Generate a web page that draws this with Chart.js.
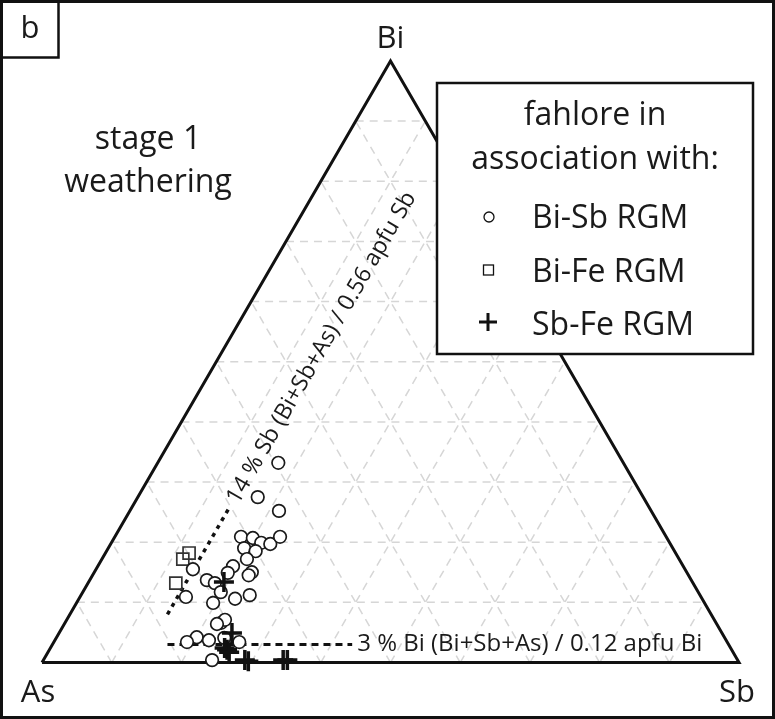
<!DOCTYPE html>
<html>
<head>
<meta charset="utf-8">
<script src="https://cdn.jsdelivr.net/npm/chart.js@4/dist/chart.umd.min.js"></script>
<style>
html, body { margin: 0; padding: 0; background: #fff; }
#wrap { width: 775px; height: 719px; position: relative; }
</style>
</head>
<body>
<div id="wrap"><canvas id="tern"></canvas></div>
<script>
// fahlore compositions, atomic %, [Bi, Sb]  (As = 100 - Bi - Sb)
var bi_sb_rgm = [
  [33.2, 17.3], [27.5, 17.2], [25.2, 21.4], [20.9, 18.1], [20.7, 19.9],
  [19.9, 21.5], [19.7, 22.9], [20.9, 23.7], [19.0, 19.5], [18.5, 21.4],
  [17.2, 20.8], [16.0, 19.4], [15.0, 22.6], [14.5, 22.4], [15.5, 13.9],
  [13.7, 16.8], [13.2, 18.2], [14.9, 19.2], [11.7, 19.8], [10.9, 15.2],
  [9.9, 19.6], [10.6, 22.4], [11.2, 24.2], [6.6, 22.4], [7.1, 22.7],
  [6.4, 21.9], [4.2, 20.1], [3.4, 19.1], [3.7, 22.1], [4.1, 24.1],
  [3.4, 26.6], [0.4, 24.2]
];
var bi_fe_rgm = [
  [18.2, 12.0], [17.2, 11.6], [13.2, 12.6]
];
var sb_fe_rgm = [
  [13.4, 19.4], [4.9, 24.8], [2.1, 25.5], [2.4, 25.0], [1.7, 26.0],
  [0.4, 28.9], [0.2, 29.5], [0.4, 34.4], [0.4, 35.0]
];
var grid_ticks = [10, 20, 30, 40, 50, 60, 70, 80, 90];
var sb_guide = 14;            // % Sb  (0.56 apfu)
var sb_guide_bi = [8, 25.5];  // Bi range of the dotted part
var bi_guide = 3;             // % Bi  (0.12 apfu)
var bi_guide_sb = [16.5, 43]; // Sb range of the dashed part

var vertex_labels = ['As', 'Sb', 'Bi'];
var legend_labels = ['Bi-Sb RGM', 'Bi-Fe RGM', 'Sb-Fe RGM'];

var FONT = '"Open Sans", "Noto Sans", sans-serif';
var H = Math.sqrt(3) / 2;

function tern(bi, sb) {
  var b = bi / 100, s = sb / 100;
  return { x: s + b / 2, y: b * H };
}
function pts(list) {
  return list.map(function (p) { return tern(p[0], p[1]); });
}

var datasets = [];
datasets.push({
  label: legend_labels[0], data: pts(bi_sb_rgm),
  pointStyle: 'circle', pointRadius: 6.3, pointBorderWidth: 1.7,
  pointBackgroundColor: '#fff', pointBorderColor: '#1a1a1a', order: 1
});
datasets.push({
  label: legend_labels[1], data: pts(bi_fe_rgm),
  pointStyle: 'rect', pointRadius: 8.5, pointBorderWidth: 1.7,
  pointBackgroundColor: 'rgba(255,255,255,0)', pointBorderColor: '#333', order: 2
});
datasets.push({
  label: legend_labels[2], data: pts(sb_fe_rgm),
  pointStyle: 'cross', pointRadius: 10, pointBorderWidth: 3.5,
  pointBorderColor: '#111', order: 0
});

// triangle outline
datasets.push({
  data: [tern(0, 0), tern(0, 100), tern(100, 0), tern(0, 0)],
  showLine: true, borderColor: '#111', borderWidth: 3, pointRadius: 0,
  borderJoinStyle: 'miter', order: 5
});

// guide lines
datasets.push({
  data: [tern(sb_guide_bi[0], sb_guide), tern(sb_guide_bi[1], sb_guide)],
  showLine: true, borderColor: '#111', borderWidth: 3.5, borderDash: [4, 5],
  pointRadius: 0, order: 6
});
datasets.push({
  data: [tern(bi_guide, bi_guide_sb[0]), tern(bi_guide, bi_guide_sb[1])],
  showLine: true, borderColor: '#111', borderWidth: 3, borderDash: [7, 5],
  pointRadius: 0, order: 6
});

// 10 % grid
grid_ticks.forEach(function (t) {
  var segs = [
    [tern(t, 0), tern(t, 100 - t)],       // Bi = t
    [tern(0, t), tern(100 - t, t)],       // Sb = t
    [tern(0, 100 - t), tern(100 - t, 0)]  // As = t
  ];
  segs.forEach(function (s) {
    datasets.push({
      data: s, showLine: true, borderColor: '#d6d6d6', borderWidth: 1.5,
      borderDash: [8, 6], pointRadius: 0, order: 10
    });
  });
});

var decor = {
  id: 'decor',
  afterDraw: function (chart) {
    var ctx = chart.ctx;
    var sx = chart.scales.x, sy = chart.scales.y;
    function px(bi, sb) {
      var p = tern(bi, sb);
      return { x: sx.getPixelForValue(p.x), y: sy.getPixelForValue(p.y) };
    }
    ctx.save();
    ctx.fillStyle = '#1a1a1a';
    ctx.strokeStyle = '#111';

    // frame and panel letter
    ctx.lineWidth = 3;
    ctx.strokeRect(1.5, 1.5, 772, 716);
    ctx.lineWidth = 2.5;
    ctx.strokeRect(1.5, 1.5, 57, 56);
    ctx.font = '31px ' + FONT;
    ctx.textAlign = 'center';
    ctx.textBaseline = 'alphabetic';
    ctx.fillText('b', 30, 38);

    // vertex labels
    var a = px(0, 0), s = px(0, 100), b = px(100, 0);
    ctx.fillText(vertex_labels[0], a.x - 4, 702);
    ctx.fillText(vertex_labels[1], s.x - 2, 702);
    ctx.fillText(vertex_labels[2], b.x, 48);

    // stage label
    ctx.font = '32px ' + FONT;
    ctx.fillText('stage 1', 148, 149);
    ctx.fillText('weathering', 148, 192);

    // guide line labels
    ctx.font = '24px ' + FONT;
    ctx.textAlign = 'left';
    ctx.textBaseline = 'middle';
    var g = px(bi_guide, bi_guide_sb[1]);
    ctx.fillText('3 % Bi (Bi+Sb+As) / 0.12 apfu Bi', g.x + 5, g.y);
    ctx.font = '23px ' + FONT;
    var q = px(sb_guide_bi[1] + 1.2, sb_guide);
    ctx.translate(q.x, q.y);
    ctx.rotate(-Math.PI / 3);
    ctx.fillText('14 % Sb (Bi+Sb+As) / 0.56 apfu Sb', 0, 0);
    ctx.setTransform(1, 0, 0, 1, 0, 0);

    // legend box
    ctx.fillStyle = '#fff';
    ctx.fillRect(437, 83, 316, 271);
    ctx.lineWidth = 2.5;
    ctx.strokeRect(437, 83, 316, 271);
    ctx.fillStyle = '#1a1a1a';
    ctx.font = '32px ' + FONT;
    ctx.textAlign = 'center';
    ctx.textBaseline = 'alphabetic';
    ctx.fillText('fahlore in', 595, 125);
    ctx.fillText('association with:', 595, 169);
    ctx.textAlign = 'left';
    var rows = [228, 282, 335];
    legend_labels.forEach(function (lab, i) {
      ctx.fillText(lab, 532, rows[i]);
    });
    // legend markers
    ctx.lineWidth = 1.3;
    ctx.beginPath();
    ctx.arc(489, 217, 5, 0, 2 * Math.PI);
    ctx.stroke();
    ctx.strokeRect(483.5, 265, 10, 10);
    ctx.lineWidth = 3;
    ctx.beginPath();
    ctx.moveTo(479, 322); ctx.lineTo(497, 322);
    ctx.moveTo(488, 313); ctx.lineTo(488, 331);
    ctx.stroke();
    ctx.restore();
  }
};

new Chart(document.getElementById('tern'), {
  type: 'scatter',
  data: { datasets: datasets },
  options: {
    responsive: true,
    maintainAspectRatio: false,
    animation: false,
    layout: { padding: 0, autoPadding: false },
    plugins: { legend: { display: false }, tooltip: { enabled: false } },
    scales: {
      x: { type: 'linear', display: false, min: -0.06026, max: 1.0516 },
      y: { type: 'linear', display: false, min: -0.08134, max: 0.9538 }
    }
  },
  plugins: [decor]
});
</script>
</body>
</html>
